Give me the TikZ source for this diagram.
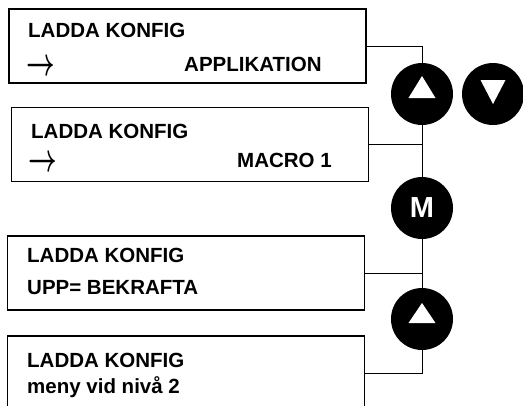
\documentclass[tikz,border=0pt]{standalone}
\usepackage{fontspec}
\usepackage{graphicx}
\setmainfont{Liberation Sans}
\usetikzlibrary{calc}

\newcommand{\lcdarrow}{\scalebox{1}[1.6]{\boldmath$\rightarrow$}}

\tikzset{
  panel/.style={draw, line width=1.5pt, minimum width=357, minimum height=74, inner sep=0pt},
  lcd/.style={font=\fontsize{20.5}{24}\selectfont\bfseries, anchor=base west, inner sep=0pt},
  pointer/.style={font=\fontsize{24}{24}\selectfont, anchor=base west, inner sep=0pt},
  key/.style={circle, fill=black, minimum size=62, inner sep=0pt},
  wire/.style={line width=1pt}
}

\begin{document}
\begin{tikzpicture}[x=1pt, y=-1pt]

\useasboundingbox (0,0) rectangle (523,405);
\clip (0,0) rectangle (523,405);

% Display panels
\node[panel] (box1) at (187.5,46) {};
\node[panel] (box2) at (190,144.5) {};
\node[panel] (box3) at (186,273) {};
\node[panel] (box4) at (186,373) {};

% Panel texts
\node[lcd] (t1a) at (28,37) {LADDA KONFIG};
\node[pointer] (t1b) at (26,75) {\lcdarrow};
\node[lcd] (t1c) at (184,71) {APPLIKATION};
\node[lcd] (t2a) at (31,138) {LADDA KONFIG};
\node[pointer] (t2b) at (28,171) {\lcdarrow};
\node[lcd] (t2c) at (237,167) {MACRO 1};
\node[lcd] (t3a) at (27,262) {LADDA KONFIG};
\node[lcd] (t3b) at (27,294) {UPP= BEKRAFTA};
\node[lcd] (t4a) at (27,367) {LADDA KONFIG};
\node[lcd] (t4b) at (27,393) {meny vid nivå 2};

% Keys
\node[key] (up1) at (422,94) {};
\node[key] (down1) at (493,94) {};
\node[key, text=white, font=\fontsize{29}{29}\selectfont\bfseries] (mkey) at (422,208) {M};
\node[key] (up2) at (422,319) {};

% Key symbols
\fill[white] ($(up1)+(0,-18)$) -- ($(up1)+(13.5,4)$) -- ($(up1)+(-13.5,4)$) -- cycle;
\fill[white] ($(down1)+(0,10)$) -- ($(down1)+(12.5,-14)$) -- ($(down1)+(-12.5,-14)$) -- cycle;
\fill[white] ($(up2)+(0,-16)$) -- ($(up2)+(13.5,4)$) -- ($(up2)+(-13.5,4)$) -- cycle;

% Connectors
\draw[wire] (box1.east) -| (up1.north);
\draw[wire] (up1.south) -- (mkey.north);
\draw[wire] (box2.east) -- (box2.east -| mkey.north);
\draw[wire] (mkey.south) -- (up2.north);
\draw[wire] (box3.east) -- (box3.east -| up2.north);
\draw[wire] (box4.east) -| (up2.south);

\end{tikzpicture}
\end{document}
